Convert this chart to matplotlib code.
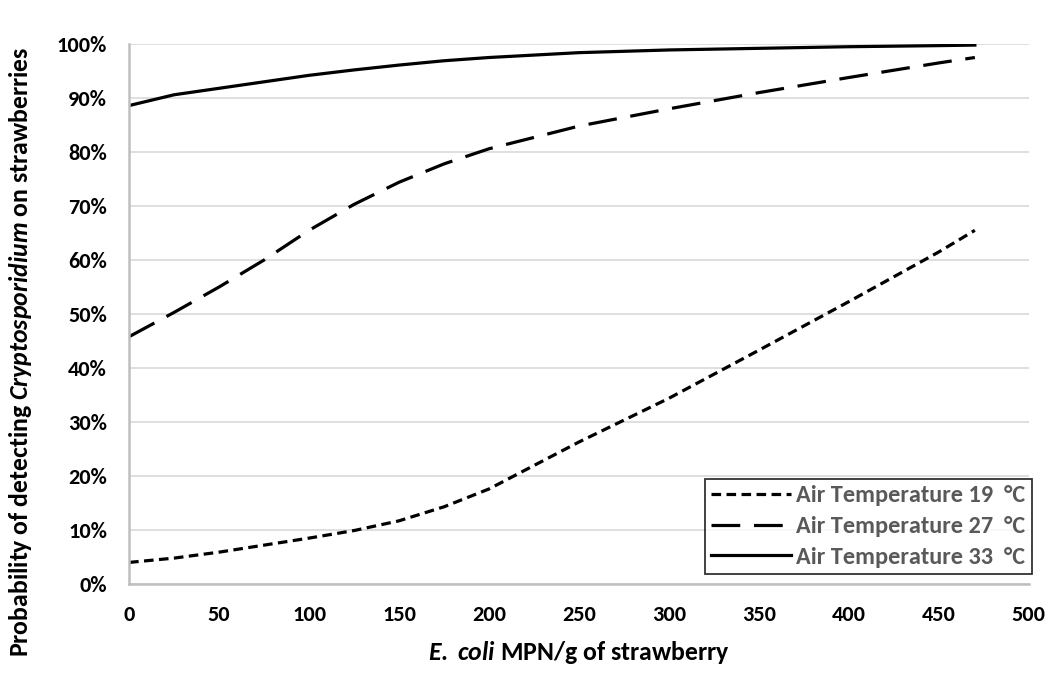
import numpy as np
import matplotlib
import matplotlib.pyplot as plt
from matplotlib.ticker import PercentFormatter

matplotlib.use("Agg")

plt.rcParams["font.family"] = ["Carlito", "DejaVu Sans"]
plt.rcParams["font.weight"] = "bold"
plt.rcParams["mathtext.fontset"] = "custom"
plt.rcParams["mathtext.rm"] = "Carlito:bold"
plt.rcParams["mathtext.it"] = "Carlito:italic:bold"
plt.rcParams["mathtext.bf"] = "Carlito:bold"

# E. coli MPN/g of strawberry
ecoli = [0, 25, 50, 75, 100, 125, 150, 175, 200, 250, 300, 350, 400, 450, 470]
# probability of detection (%) per air temperature
temp_19 = [4.0, 4.8, 5.9, 7.2, 8.5, 9.9, 11.7, 14.3, 17.6, 26.3, 34.4, 43.3, 52.3, 61.5, 65.5]
temp_27 = [45.8, 50.3, 55.0, 60.0, 65.5, 70.3, 74.4, 77.8, 80.6, 84.8, 88.0, 91.0, 93.8, 96.5, 97.5]
temp_33 = [88.6, 90.6, 91.8, 93.0, 94.2, 95.2, 96.1, 96.9, 97.5, 98.4, 98.9, 99.2, 99.5, 99.7, 99.8]

labels = ["Air Temperature 19  °C", "Air Temperature 27  °C", "Air Temperature 33  °C"]
x_ticks = list(range(0, 501, 50))
y_ticks = list(range(0, 101, 10))

fig = plt.figure(figsize=(10.52, 6.74), dpi=100)
ax = fig.add_axes([0.1227, 0.1335, 0.8553, 0.8012])

lw = 2.3
ax.plot(ecoli, temp_19, color="black", linewidth=lw, dashes=(3, 1.7),
        label=labels[0], dash_capstyle="butt")
ax.plot(ecoli, temp_27, color="black", linewidth=lw, dashes=(9, 4.3),
        label=labels[1], dash_capstyle="butt")
ax.plot(ecoli, temp_33, color="black", linewidth=lw, label=labels[2])

ax.set_xlim(0, 500)
ax.set_ylim(0, 100)
ax.set_xticks(x_ticks)
ax.set_yticks(y_ticks)
ax.yaxis.set_major_formatter(PercentFormatter(decimals=0))
ax.tick_params(length=0, labelsize=16)
ax.tick_params(axis="y", pad=16)
ax.tick_params(axis="x", pad=15)
for lab in ax.get_xticklabels() + ax.get_yticklabels():
    lab.set_fontweight("bold")

ax.grid(axis="y", color="#d9d9d9", linewidth=1.2)
ax.set_axisbelow(True)
for side in ["top", "right"]:
    ax.spines[side].set_visible(False)
for side in ["left", "bottom"]:
    ax.spines[side].set_color("#bfbfbf")
    ax.spines[side].set_linewidth(1.8)

ax.set_xlabel(r"$\mathit{E.}$ $\mathit{coli}$ MPN/g of strawberry", fontsize=18.5,
              fontweight="bold", labelpad=10)
ax.set_ylabel(r"Probability of detecting $\mathit{Cryptosporidium}$ on strawberries",
              fontsize=18.5, fontweight="bold")
ax.yaxis.set_label_coords(-0.106, 0.43)

leg = ax.legend(loc="lower right", bbox_to_anchor=(1.003, 0.0185), fontsize=17.5,
                frameon=True, fancybox=False, handlelength=3.3, handletextpad=0.2,
                borderpad=0.25, labelspacing=0.4, borderaxespad=0)
leg.get_frame().set_edgecolor("black")
leg.get_frame().set_linewidth(1.3)
for t in leg.get_texts():
    t.set_color("#595959")
    t.set_fontweight("bold")

fig.savefig("out.png", dpi=100)
